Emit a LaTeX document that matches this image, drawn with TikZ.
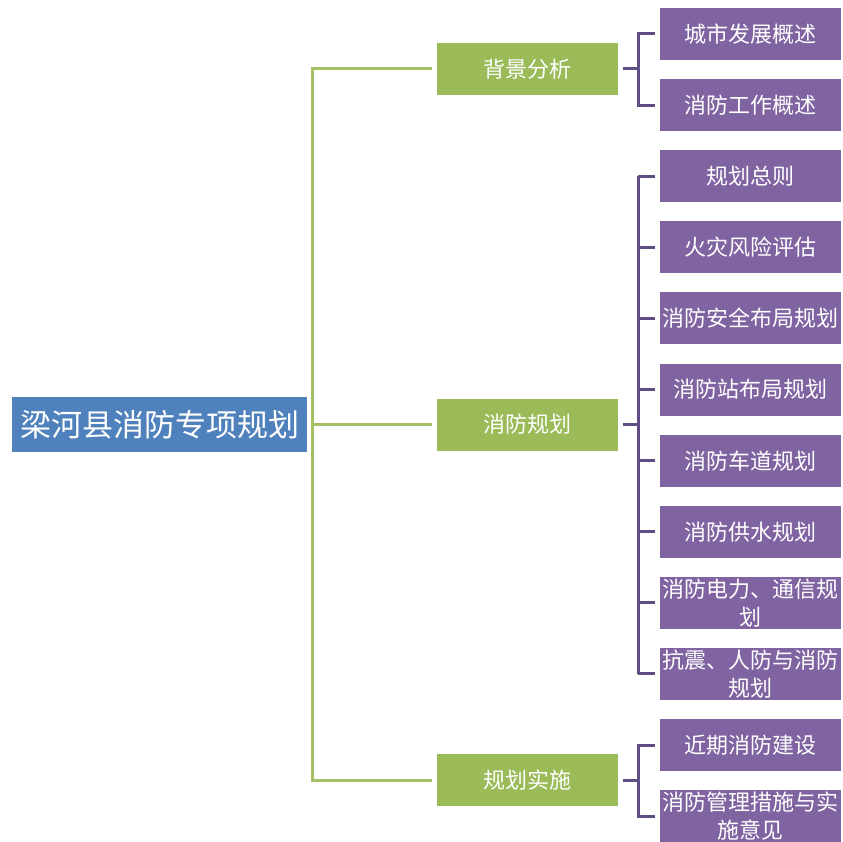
\documentclass[tikz,border=0pt]{standalone}
\usepackage{fontspec}
\newfontfamily\cjk{Noto Sans CJK SC}
\definecolor{rootblue}{HTML}{4F81BD}
\definecolor{boxgreen}{HTML}{9BBB59}
\definecolor{boxpurple}{HTML}{8064A2}
\definecolor{brackpurple}{HTML}{5F4E86}
\definecolor{linegreen}{HTML}{A3C064}
\tikzset{
  rootbox/.style={rectangle, fill=rootblue, text=white, minimum width=295pt, minimum height=55pt,
    inner sep=0pt, outer xsep=5pt, outer ysep=0pt, font=\cjk\fontsize{31}{36}\selectfont},
  greenbox/.style={rectangle, fill=boxgreen, text=white, minimum width=181pt, minimum height=52pt,
    inner sep=0pt, outer xsep=5pt, outer ysep=0pt, font=\cjk\fontsize{22}{28}\selectfont},
  purplebox/.style={rectangle, fill=boxpurple, text=white, minimum width=181pt, minimum height=52pt,
    inner sep=0pt, outer xsep=5pt, outer ysep=0pt, align=center, font=\cjk\fontsize{22}{28}\selectfont},
  gline/.style={draw=linegreen, line width=3pt},
  pline/.style={draw=brackpurple, line width=3pt},
}
\begin{document}
\begin{tikzpicture}[x=1pt, y=-1pt]
\useasboundingbox (0,0) rectangle (843,842);
\node[rootbox] (root) at (159.5,424.5) {梁河县消防专项规划};
\node[greenbox] (g1) at (527.5,69) {背景分析};
\node[greenbox] (g2) at (527.5,424.5) {消防规划};
\node[greenbox] (g3) at (527.5,780) {规划实施};
\node[purplebox] (p1) at (750.5,34) {城市发展概述};
\node[purplebox] (p2) at (750.5,105.1) {消防工作概述};
\node[purplebox] (p3) at (750.5,176.2) {规划总则};
\node[purplebox] (p4) at (750.5,247.3) {火灾风险评估};
\node[purplebox] (p5) at (750.5,318.4) {消防安全布局规划};
\node[purplebox] (p6) at (750.5,389.5) {消防站布局规划};
\node[purplebox] (p7) at (750.5,460.6) {消防车道规划};
\node[purplebox] (p8) at (750.5,531.7) {消防供水规划};
\node[purplebox] (p9) at (750.5,602.8) {消防电力、通信规\\划};
\node[purplebox] (p10) at (750.5,673.9) {抗震、人防与消防\\规划};
\node[purplebox] (p11) at (750.5,745) {近期消防建设};
\node[purplebox] (p12) at (750.5,816.1) {消防管理措施与实\\施意见};
\coordinate (bx) at (638,0);
% trunk
\draw[gline] (g1.west) -- (g1.west -| root.east) -- (g3.west -| root.east) -- (g3.west);
\draw[gline] (root.east) -- (g2.west);
% bracket 1
\draw[pline] (g1.east) -- (g1.east -| bx);
\draw[pline] (p1.west) -- (p1.west -| bx) -- (p2.west -| bx) -- (p2.west);
% bracket 2
\draw[pline] (g2.east) -- (g2.east -| bx);
\draw[pline] (p3.west -| bx) -- (p10.west -| bx);
\foreach \i in {3,...,10} {\draw[pline] (p\i.west) -- (p\i.west -| bx);}
% bracket 3
\draw[pline] (g3.east) -- (g3.east -| bx);
\draw[pline] (p11.west) -- (p11.west -| bx) -- (p12.west -| bx) -- (p12.west);
\end{tikzpicture}
\end{document}
